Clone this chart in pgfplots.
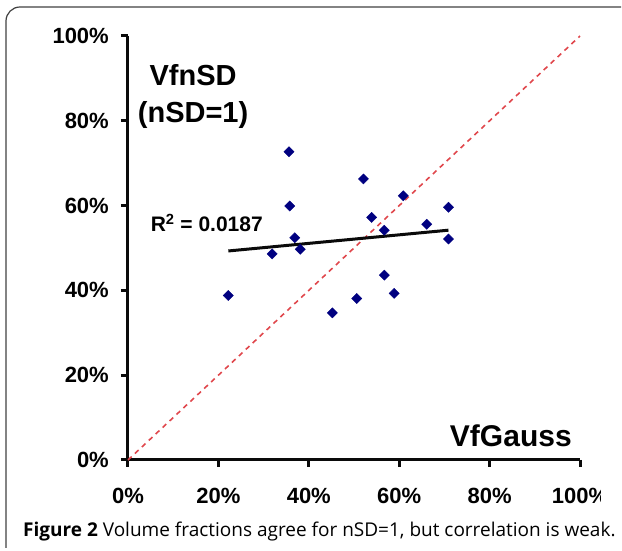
\documentclass[border=0pt]{standalone}
\usepackage{pgfplots}
\pgfplotsset{compat=1.18}
\usepackage{fontspec}
\setmainfont{Liberation Sans}
\newfontfamily\capfont{Open Sans}
\definecolor{navy}{HTML}{000080}
\definecolor{diag}{HTML}{E0474C}
\definecolor{ink}{HTML}{0A0A0A}
\begin{document}
\begin{tikzpicture}
  \path[use as bounding box] (0pt,0pt) rectangle (622pt,551pt);
  % figure frame (open at right and bottom)
  \draw[line width=1.2pt, black!75] (6pt,3pt) -- (6pt,530pt) arc[start angle=180, end angle=90, radius=14pt] -- (621pt,544pt);
  \begin{axis}[
    at={(128pt,91pt)}, anchor=south west,
    scale only axis, width=452pt, height=424pt,
    xmin=0, xmax=100, ymin=0, ymax=100,
    axis x line=bottom, axis y line=left,
    axis line style={-, line width=3pt, draw=ink},
    xtick={0,20,...,100}, ytick={0,20,...,100},
    xticklabels={0\%,20\%,40\%,60\%,80\%,100\%},
    yticklabels={0\%,20\%,40\%,60\%,80\%,100\%},
    tick align=outside, major tick length=7pt,
    major tick style={line width=3pt, draw=ink},
    tick label style={font=\fontsize{22}{22}\selectfont\bfseries, inner sep=0pt},
    xticklabel style={anchor=base, yshift=-37pt},
    yticklabel style={anchor=east, xshift=-12pt},
    clip=false,
  ]
    % axis lines
    \addplot[ink, line width=3pt, line join=miter] coordinates {(0,100) (0,0) (100,0)};
    % tick marks
    \addplot[ink, line width=3pt, unbounded coords=jump] coordinates {
      (0,0) (0,-1.65) (nan,nan) (20,0) (20,-1.65) (nan,nan) (40,0) (40,-1.65) (nan,nan)
      (60,0) (60,-1.65) (nan,nan) (80,0) (80,-1.65) (nan,nan) (100,0) (100,-1.65) (nan,nan)
      (0,0) (-1.55,0) (nan,nan) (0,20) (-1.55,20) (nan,nan) (0,40) (-1.55,40) (nan,nan)
      (0,60) (-1.55,60) (nan,nan) (0,80) (-1.55,80) (nan,nan) (0,100) (-1.55,100)
    };
    % identity line
    \addplot[diag, line width=1.6pt, dash pattern=on 5pt off 4.5pt] coordinates {(0,0) (100,100)};
    % data points
    \addplot[only marks, mark=square*, mark size=3.6pt, mark options={rotate=45}, navy] coordinates {
      (22.2,38.8) (35.6,72.7) (35.8,59.9) (36.9,52.4) (31.9,48.6)
      (38.1,49.7) (45.2,34.7) (52.1,66.3) (50.6,38.1) (53.9,57.2)
      (56.7,54.2) (56.7,43.6) (58.9,39.3) (60.9,62.3) (66.1,55.6)
      (70.9,59.6) (70.9,52.1)
    };
    % linear trend line
    \addplot[ink, line width=3pt] coordinates {(22.2,49.3) (70.9,54.2)};
    \node[anchor=base west, font=\fontsize{21}{21}\selectfont\bfseries, inner sep=0pt] at (axis cs:5.0,53.8) {R\textsuperscript{2} = 0.0187};
    \node[anchor=base, font=\fontsize{29}{29}\selectfont\bfseries, inner sep=0pt] at (axis cs:14.4,88.4) {VfnSD};
    \node[anchor=base, font=\fontsize{29}{29}\selectfont\bfseries, inner sep=0pt] at (axis cs:14.4,79.7) {(nSD=1)};
    \node[anchor=base, font=\fontsize{30}{30}\selectfont\bfseries, inner sep=0pt] at (axis cs:84.7,3.3) {VfGauss};
  \end{axis}
  % the chart image is cut off at its right edge
  \fill[white] (601pt,40pt) rectangle (622pt,80pt);
  \node[anchor=base west, inner sep=0pt, font=\capfont\fontsize{19}{19}\selectfont] at (23pt,14pt) {{\bfseries Figure 2} Volume fractions agree for nSD=1, but correlation is weak.};
\end{tikzpicture}
\end{document}
